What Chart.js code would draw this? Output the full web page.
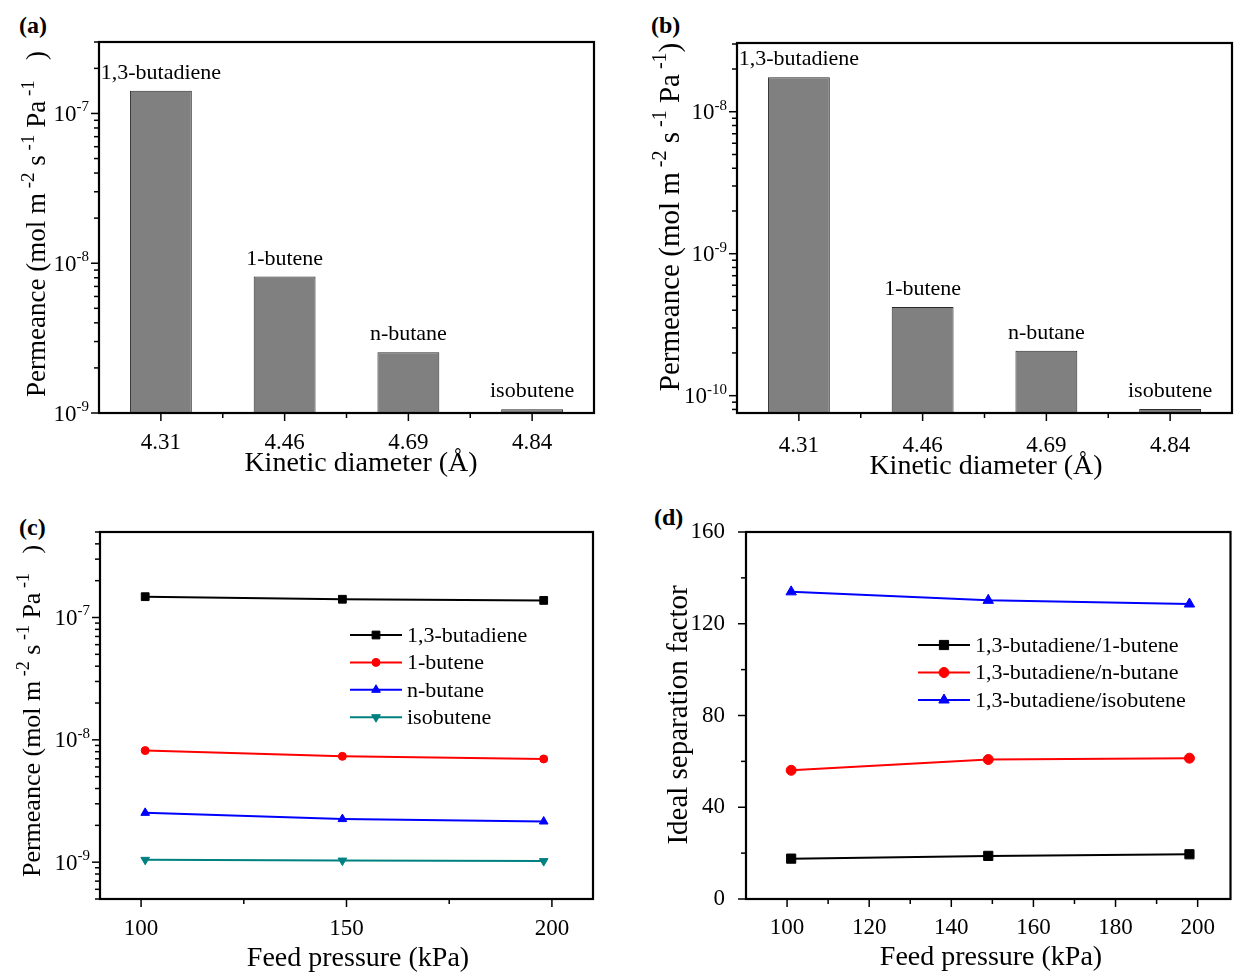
<!DOCTYPE html>
<html>
<head>
<meta charset="utf-8">
<script src="https://cdn.jsdelivr.net/npm/chart.js@4.4.0/dist/chart.umd.min.js"></script>
<style>
  html, body { margin: 0; padding: 0; background: #fff; overflow: hidden; }
  body { width: 1238px; height: 972px; position: relative; }
  canvas { position: absolute; }
  .tag { position: absolute; font: bold 24px "Liberation Serif", serif; line-height: 24px; color: #000; }
</style>
</head>
<body>
<div class="tag" style="left:19px;top:13px">(a)</div>
<div class="tag" style="left:651px;top:13px">(b)</div>
<div class="tag" style="left:19px;top:515px">(c)</div>
<div class="tag" style="left:654px;top:505px">(d)</div>
<canvas id="chartA" width="619" height="486" style="left:0;top:0;width:619px;height:486px"></canvas>
<canvas id="chartB" width="619" height="486" style="left:619px;top:0;width:619px;height:486px"></canvas>
<canvas id="chartC" width="619" height="486" style="left:0;top:486px;width:619px;height:486px"></canvas>
<canvas id="chartD" width="619" height="486" style="left:619px;top:486px;width:619px;height:486px"></canvas>
<script>
// data
const gases = ["1,3-butadiene", "1-butene", "n-butane", "isobutene"];
const diameters = ["4.31", "4.46", "4.69", "4.84"];
const permeanceA = [1.42e-7, 8.15e-9, 2.54e-9, 1.06e-9];
const permeanceB = [1.75e-8, 4.21e-10, 2.07e-10, 8.06e-11];

const pressure = [101, 149, 198];
const butadieneC = [1.48e-7, 1.41e-7, 1.38e-7];
const buteneC = [8.17e-9, 7.33e-9, 6.98e-9];
const butaneC = [2.53e-9, 2.25e-9, 2.15e-9];
const isobuteneC = [1.045e-9, 1.03e-9, 1.02e-9];

const pairs = ["1,3-butadiene/1-butene", "1,3-butadiene/n-butane", "1,3-butadiene/isobutene"];
const factorButene = [17.6, 18.8, 19.5];
const factorButane = [56.1, 60.8, 61.4];
const factorIsobutene = [133.9, 130.2, 128.6];

// tick labels
const decadesA = [1e-9, 1e-8, 1e-7];
const decadesB = [1e-10, 1e-9, 1e-8];
const decadesC = [1e-9, 1e-8, 1e-7];
const pressureTicksC = [100, 150, 200];
const pressureTicksD = [100, 120, 140, 160, 180, 200];
const factorTicks = [0, 40, 80, 120, 160];

const SERIF = '"Liberation Serif", "Times New Roman", serif';

// y title with superscripts, as pieces
const permTitle = [
  { t: "Permeance (mol m" }, { t: " -2", sup: true }, { t: " s" }, { t: " -1", sup: true },
  { t: " Pa" }, { t: " -1", sup: true }, { t: "   )" }
];
const permTitleB = [
  { t: "Permeance (mol m" }, { t: " -2", sup: true }, { t: " s" }, { t: " -1", sup: true },
  { t: " Pa" }, { t: " -1", sup: true }, { t: ")" }
];

const fixTicks = list => scale => { scale.ticks = list.map(v => ({ value: v })); };

// text with raised pieces; cy is the visual middle of the main text
function drawRich(ctx, segs, size, x, cy, align, ratio) {
  const supSize = Math.round(size * (ratio || 0.64));
  const widths = segs.map(s => {
    ctx.font = (s.sup ? supSize : size) + "px " + SERIF;
    return ctx.measureText(s.t).width;
  });
  const total = widths.reduce((p, w) => p + w, 0);
  let cx = align === "right" ? x - total : x - total / 2;
  const base = cy + size * 0.33;
  ctx.textAlign = "left";
  ctx.textBaseline = "alphabetic";
  segs.forEach((s, i) => {
    ctx.font = (s.sup ? supSize : size) + "px " + SERIF;
    ctx.fillText(s.t, cx, s.sup ? base - size * 0.42 : base);
    cx += widths[i];
  });
}

// box round the plot + outward major / minor tick marks
const framePlugin = {
  id: "frame",
  afterDraw(chart) {
    const { ctx, chartArea: a } = chart;
    ctx.save();
    ctx.strokeStyle = "#000";
    ctx.lineWidth = 1.5;
    ["x", "y"].forEach(id => {
      const s = chart.scales[id];
      const major = s.ticks.map(t => t.value);
      const minor = [];
      if (s.type === "logarithmic") {
        for (let e = Math.floor(Math.log10(s.min)); e <= Math.ceil(Math.log10(s.max)); e++) {
          for (let k = 2; k <= 9; k++) {
            const v = k * Math.pow(10, e);
            if (v >= s.min * 0.999 && v <= s.max * 1.001) minor.push(v);
          }
        }
      } else {
        for (let i = 0; i < major.length - 1; i++) minor.push((major[i] + major[i + 1]) / 2);
      }
      const mark = (v, len) => {
        const p = s.getPixelForValue(v);
        ctx.beginPath();
        if (id === "x") { ctx.moveTo(p, a.bottom); ctx.lineTo(p, a.bottom + len); }
        else { ctx.moveTo(a.left, p); ctx.lineTo(a.left - len, p); }
        ctx.stroke();
      };
      major.forEach(v => mark(v, 8));
      minor.forEach(v => mark(v, 5));
    });
    ctx.lineWidth = 2.2;
    ctx.strokeRect(a.left, a.top, a.right - a.left, a.bottom - a.top);
    ctx.restore();
  }
};

// axis titles and power-of-ten tick labels
const axisText = {
  id: "axisText",
  afterDraw(chart, args, o) {
    const { ctx, chartArea: a } = chart;
    ctx.save();
    ctx.fillStyle = "#000";
    if (o.logTicks) {
      const s = chart.scales.y;
      s.ticks.forEach(t => {
        const e = Math.round(Math.log10(t.value));
        drawRich(ctx, [{ t: "10" }, { t: String(e), sup: true }], 23, a.left - 10, s.getPixelForValue(t.value), "right");
      });
    }
    ctx.font = o.xSize + "px " + SERIF;
    ctx.textAlign = "center";
    ctx.textBaseline = "middle";
    ctx.fillText(o.xTitle, o.xTitleX, o.xTitleY);
    ctx.translate(o.yTitleX, o.yTitleY);
    ctx.rotate(-Math.PI / 2);
    drawRich(ctx, o.yTitle, o.ySize, 0, 0, "center", 0.7);
    ctx.restore();
  }
};

// gas names above the bars
const barNames = {
  id: "barNames",
  afterDatasetsDraw(chart, args, opts) {
    if (!opts.names) return;
    const { ctx } = chart;
    ctx.save();
    ctx.font = "22px " + SERIF;
    ctx.fillStyle = "#000";
    ctx.textAlign = "center";
    ctx.textBaseline = "alphabetic";
    chart.getDatasetMeta(0).data.forEach((bar, i) => {
      ctx.fillText(opts.names[i], bar.x, bar.y - opts.gap);
    });
    ctx.restore();
  }
};

// legend drawn inside the plot like the original
const insideLegend = {
  id: "insideLegend",
  afterDraw(chart, args, opts) {
    if (opts.x === undefined) return;
    const { ctx, chartArea: a } = chart;
    ctx.save();
    chart.data.datasets.forEach((ds, i) => {
      const y = a.top + opts.y + i * opts.step;
      const x0 = a.left + opts.x;
      ctx.strokeStyle = ds.borderColor;
      ctx.fillStyle = ds.borderColor;
      ctx.lineWidth = 2;
      ctx.beginPath();
      ctx.moveTo(x0, y);
      ctx.lineTo(x0 + opts.len, y);
      ctx.stroke();
      ctx.lineWidth = 1;
      Chart.helpers.drawPoint(ctx, { pointStyle: ds.pointStyle, radius: ds.pointRadius,
        rotation: ds.pointRotation || 0, borderWidth: 1 }, x0 + opts.len / 2, y);
      ctx.fillStyle = "#000";
      ctx.font = "22px " + SERIF;
      ctx.textAlign = "left";
      ctx.textBaseline = "middle";
      ctx.fillText(ds.label, x0 + opts.len + 5, y + 1);
    });
    ctx.restore();
  }
};

function tickFont(size) { return { family: SERIF, size: size }; }

function barChart(id, values, yMin, yMax, decades, layout, text, xTickPad) {
  return new Chart(document.getElementById(id), {
    type: "bar",
    data: {
      labels: diameters,
      datasets: [{
        data: values,
        backgroundColor: "#808080",
        borderColor: "#2a2a2a",
        borderWidth: 1,
        barPercentage: 0.5,
        categoryPercentage: 1
      }]
    },
    options: {
      responsive: false,
      animation: false,
      devicePixelRatio: 1,
      layout: { padding: layout },
      plugins: {
        legend: { display: false },
        tooltip: { enabled: false },
        barNames: { names: gases, gap: 12 },
        axisText: text
      },
      scales: {
        x: {
          type: "category",
          offset: true,
          grid: { display: false },
          border: { display: false },
          ticks: { font: tickFont(23), color: "#000", padding: xTickPad },
          afterFit: s => { s.height = 73; }
        },
        y: {
          type: "logarithmic",
          min: yMin,
          max: yMax,
          afterBuildTicks: fixTicks(decades),
          grid: { display: false },
          border: { display: false },
          ticks: { display: false },
          afterFit: s => { s.width = layout.yWidth; }
        }
      }
    },
    plugins: [framePlugin, barNames, axisText]
  });
}

barChart("chartA", permeanceA, 1e-9, 3e-7, decadesA,
  { left: 0, top: 42, right: 25, bottom: 0, yWidth: 99 },
  { logTicks: true, xTitle: "Kinetic diameter (\u00C5)", xSize: 28, xTitleX: 361, xTitleY: 464,
    yTitle: permTitle, ySize: 27, yTitleX: 36, yTitleY: 224 }, 8);
barChart("chartB", permeanceB, 7.55e-11, 3.05e-8, decadesB,
  { left: 0, top: 43, right: 6, bottom: 0, yWidth: 118 },
  { logTicks: true, xTitle: "Kinetic diameter (\u00C5)", xSize: 28, xTitleX: 367, xTitleY: 467,
    yTitle: permTitleB, ySize: 29, yTitleX: 50, yTitleY: 217 }, 11);

const xy = ys => pressure.map((p, i) => ({ x: p, y: ys[i] }));
function series(label, ys, color, style, radius, rotation) {
  return {
    label: label,
    data: xy(ys),
    borderColor: color,
    backgroundColor: color,
    pointBackgroundColor: color,
    pointBorderColor: color,
    borderWidth: 2,
    pointStyle: style,
    pointRadius: radius,
    pointRotation: rotation || 0,
    pointBorderWidth: 1
  };
}

new Chart(document.getElementById("chartC"), {
  type: "line",
  data: {
    datasets: [
      series(gases[0], butadieneC, "#000000", "rect", 5.5),
      series(gases[1], buteneC, "#ff0000", "circle", 4),
      series(gases[2], butaneC, "#0000ff", "triangle", 5),
      series(gases[3], isobuteneC, "#008080", "triangle", 5, 180)
    ]
  },
  options: {
    responsive: false,
    animation: false,
    devicePixelRatio: 1,
    layout: { padding: { left: 0, top: 46, right: 26, bottom: 0 } },
    plugins: {
      legend: { display: false },
      tooltip: { enabled: false },
      insideLegend: { x: 250, y: 103, step: 27.4, len: 52 },
      axisText: { logTicks: true, xTitle: "Feed pressure (kPa)", xSize: 28, xTitleX: 358, xTitleY: 473,
                  yTitle: permTitle, ySize: 26, yTitleX: 31, yTitleY: 225 }
    },
    scales: {
      x: {
        type: "linear",
        min: 90,
        max: 210,
        afterBuildTicks: fixTicks(pressureTicksC),
        grid: { display: false },
        border: { display: false },
        ticks: { font: tickFont(23), color: "#000", padding: 8 },
        afterFit: s => { s.height = 73; }
      },
      y: {
        type: "logarithmic",
        min: 5e-10,
        max: 5e-7,
        afterBuildTicks: fixTicks(decadesC),
        grid: { display: false },
        border: { display: false },
        ticks: { display: false },
        afterFit: s => { s.width = 100; }
      }
    }
  },
  plugins: [framePlugin, insideLegend, axisText]
});

new Chart(document.getElementById("chartD"), {
  type: "line",
  data: {
    datasets: [
      series(pairs[0], factorButene, "#000000", "rect", 6.5),
      series(pairs[1], factorButane, "#ff0000", "circle", 5),
      series(pairs[2], factorIsobutene, "#0000ff", "triangle", 6)
    ]
  },
  options: {
    responsive: false,
    animation: false,
    devicePixelRatio: 1,
    layout: { padding: { left: 0, top: 46, right: 2, bottom: 0 } },
    plugins: {
      legend: { display: false },
      tooltip: { enabled: false },
      insideLegend: { x: 172, y: 113, step: 27.5, len: 52 },
      axisText: { logTicks: false, xTitle: "Feed pressure (kPa)", xSize: 28, xTitleX: 372, xTitleY: 472,
                  yTitle: [{ t: "Ideal separation factor" }], ySize: 29, yTitleX: 58, yTitleY: 229 }
    },
    scales: {
      x: {
        type: "linear",
        min: 90,
        max: 208,
        afterBuildTicks: fixTicks(pressureTicksD),
        grid: { display: false },
        border: { display: false },
        ticks: { font: tickFont(23), color: "#000", padding: 7 },
        afterFit: s => { s.height = 73; }
      },
      y: {
        type: "linear",
        min: 0,
        max: 160,
        afterBuildTicks: fixTicks(factorTicks),
        grid: { display: false },
        border: { display: false },
        ticks: { font: tickFont(23), color: "#000", padding: 13 },
        afterFit: s => { s.width = 127; }
      }
    }
  },
  plugins: [framePlugin, insideLegend, axisText]
});
</script>
</body>
</html>
